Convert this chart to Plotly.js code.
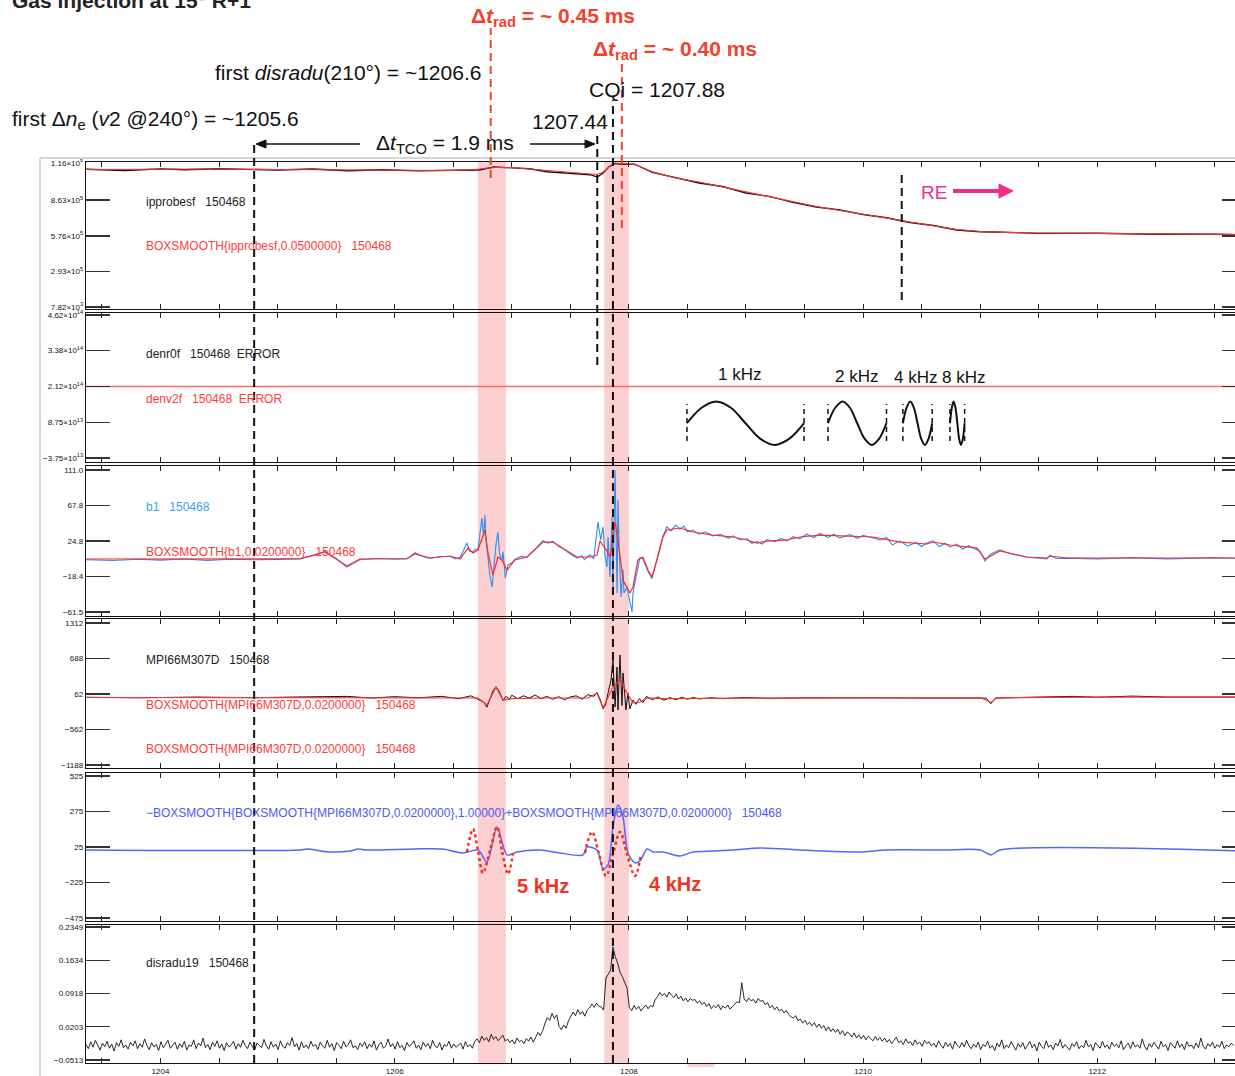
<!DOCTYPE html>
<html><head><meta charset="utf-8">
<script src="https://cdn.plot.ly/plotly-3.0.1.min.js"></script>
<style>html,body{margin:0;padding:0;overflow:hidden;background:#fff;}#chart{width:1246px;height:1076px;}</style>
</head><body><div id="chart"></div>
<script>
// ---------------- data ----------------
const timeRange = [1203.364, 1213.27];
const xLabelVals = [1204, 1206, 1208, 1210, 1212];
const xLabelText = ['1204', '1206', '1208', '1210', '1212'];
const xMinorVals = [1203.5,1204.5,1205,1205.5,1206.5,1207,1207.5,1208.5,1209,1209.5,1210.5,1211,1211.5,1212.5,1213];

const ipTickVals = [1.16e6, 8.63e5, 5.76e5, 2.93e5, 7.82e3];
const ipTickText = ['1.16×10<sup>6</sup>','8.63×10<sup>5</sup>','5.76×10<sup>5</sup>','2.93×10<sup>5</sup>','7.82×10<sup>3</sup>'];
const neTickVals = [4.62e14, 3.38e14, 2.12e14, 8.75e13, -3.75e13];
const neTickText = ['4.62×10<sup>14</sup>','3.38×10<sup>14</sup>','2.12×10<sup>14</sup>','8.75×10<sup>13</sup>','−3.75×10<sup>13</sup>'];
const b1TickVals = [111.0, 67.8, 24.8, -18.4, -61.5];
const b1TickText = ['111.0','67.8','24.8','−18.4','−61.5'];
const mpiTickVals = [1312, 688, 62, -562, -1188];
const mpiTickText = ['1312','688','62','−562','−1188'];
const diffTickVals = [525, 275, 25, -225, -475];
const diffTickText = ['525','275','25','−225','−475'];
const radTickVals = [0.2349, 0.1634, 0.0918, 0.0203, -0.0513];
const radTickText = ['0.2349','0.1634','0.0918','0.0203','−0.0513'];

// panel 1 : ipprobesf
const ipRawT = [1203.364,1203.7,1204.0,1204.2,1204.5,1204.8,1205.0,1205.3,1205.6,1205.9,1206.2,1206.5,1206.72,1206.85,1207.0,1207.15,1207.3,1207.5,1207.67,1207.73,1207.78,1207.83,1207.88,1207.95,1208.05,1208.2,1208.4,1208.6,1208.8,1209.0,1209.2,1209.4,1209.6,1209.8,1210.0,1210.2,1210.4,1210.6,1210.8,1211.0,1211.2,1211.5,1212.0,1212.5,1213.0,1213.27];
const ipRawV = [1.110e6,1.100e6,1.113e6,1.106e6,1.114e6,1.109e6,1.104e6,1.112e6,1.098e6,1.106e6,1.097e6,1.102e6,1.104e6,1.128e6,1.118e6,1.114e6,1.090e6,1.080e6,1.066e6,1.048e6,1.080e6,1.130e6,1.156e6,1.150e6,1.150e6,1.085e6,1.045e6,1.000e6,0.972e6,0.920e6,0.892e6,0.845e6,0.808e6,0.785e6,0.748e6,0.722e6,0.684e6,0.660e6,0.624e6,0.610e6,0.606e6,0.597e6,0.598e6,0.590e6,0.590e6,0.586e6];
const ipSmT = [1203.364,1204.0,1204.5,1205.0,1205.5,1206.0,1206.5,1206.72,1206.85,1207.0,1207.15,1207.3,1207.5,1207.67,1207.73,1207.78,1207.83,1207.88,1207.95,1208.05,1208.2,1208.4,1208.6,1208.8,1209.0,1209.2,1209.4,1209.6,1209.8,1210.0,1210.2,1210.4,1210.6,1210.8,1211.0,1211.2,1211.5,1212.0,1212.5,1213.0,1213.27];
const ipSmV = [1.108e6,1.112e6,1.112e6,1.108e6,1.104e6,1.104e6,1.100e6,1.112e6,1.124e6,1.124e6,1.112e6,1.096e6,1.084e6,1.072e6,1.068e6,1.088e6,1.128e6,1.152e6,1.156e6,1.148e6,1.090e6,1.040e6,1.008e6,0.968e6,0.928e6,0.888e6,0.848e6,0.812e6,0.780e6,0.752e6,0.720e6,0.688e6,0.656e6,0.628e6,0.612e6,0.604e6,0.600e6,0.596e6,0.592e6,0.588e6,0.588e6];

// panel 2 : denv2f (constant) + frequency reference sketches
const neT = [1203.364, 1213.27];
const neV = [2.12e14, 2.12e14];
const sine1kT = [1208.496,1208.621,1208.746,1208.871,1208.996,1209.121,1209.246,1209.371,1209.496];
const sine2kT = [1209.700,1209.7625,1209.825,1209.8875,1209.950,1210.0125,1210.075,1210.1375,1210.200];
const sine4kT = [1210.340,1210.371,1210.403,1210.434,1210.465,1210.496,1210.528,1210.559,1210.590];
const sine8kT = [1210.742,1210.758,1210.773,1210.789,1210.805,1210.820,1210.836,1210.852,1210.867];
const sineLevels = [8.4e13,1.38e14,1.6e14,1.38e14,8.4e13,3.0e13,0.8e13,3.0e13,8.4e13];
const sineEdgeTimes = [1208.496,1209.496,1209.700,1210.200,1210.340,1210.590,1210.742,1210.867];
const sineEdgeLevels = [2.2e13, 1.51e14];

// panel 3 : b1
const b1SmT = [1203.364,1204.5,1205.0,1205.19,1205.3,1205.404,1205.5,1205.592,1205.703,1206.0,1206.105,1206.174,1206.302,1206.472,1206.558,1206.626,1206.669,1206.711,1206.771,1206.797,1206.839,1206.882,1206.916,1206.959,1207.027,1207.130,1207.266,1207.352,1207.437,1207.557,1207.668,1207.728,1207.753,1207.813,1207.839,1207.882,1207.907,1207.950,1208.009,1208.035,1208.078,1208.120,1208.163,1208.197,1208.240,1208.291,1208.325,1208.436,1208.547,1208.718,1208.889,1209.008,1209.094,1209.179,1209.350,1209.461,1209.632,1209.888,1210.085,1210.315,1210.546,1210.597,1210.742,1210.973,1211.041,1211.169,1211.400,1211.570,1211.596,1211.741,1212.5,1213.27];
const b1SmV = [2.9,2.9,3.0,3.2,7.0,11.4,3.0,-5.6,2.9,3.0,3.5,9.0,4.1,6.5,2.9,16.2,10.2,13.8,38.1,10.2,-16.6,5.3,1.7,-10.5,1.7,5.3,23.5,23.5,16.2,5.3,5.3,7.7,25.0,12.6,5.3,47.8,26.0,-22.6,-38.4,-31.1,1.7,5.3,-10.5,-19.0,1.7,29.6,38.1,40.5,35.7,32.0,29.6,26.0,22.3,24.7,26.0,29.6,32.0,30.8,29.6,23.5,21.1,23.5,19.9,16.2,2.9,12.6,5.3,4.1,6.5,4.1,4.1,4.1];
const b1Raw = [[1203.364,2.0],[1203.6,1.0],[1203.8,2.5],[1204.0,1.5],[1204.2,2.8],[1204.4,1.2],[1204.6,2.6],[1204.8,2.0],[1205.0,2.4],[1205.19,3.0],[1205.3,7.5],[1205.404,12.0],[1205.5,3.5],[1205.592,-7.0],[1205.65,-2.0],[1205.703,2.0],[1205.85,3.5],[1206.0,2.5],[1206.105,3.0],[1206.174,10.5],[1206.24,6.0],[1206.302,3.5],[1206.38,6.0],[1206.472,6.0],[1206.52,3.0],[1206.558,5.0],[1206.59,14.0],[1206.617,22.3],[1206.64,12.0],[1206.669,11.5],[1206.69,15.0],[1206.711,14.0],[1206.745,52.7],[1206.76,30.0],[1206.771,56.3],[1206.78,26.0],[1206.797,5.0],[1206.81,-14.1],[1206.831,-31.1],[1206.845,-10.0],[1206.865,20.0],[1206.882,35.7],[1206.895,10.0],[1206.916,1.0],[1206.925,12.0],[1206.945,-20.2],[1206.968,-4.0],[1207.0,-2.0],[1207.027,2.5],[1207.08,6.0],[1207.13,5.0],[1207.2,15.0],[1207.266,25.0],[1207.31,22.0],[1207.352,24.5],[1207.4,18.0],[1207.437,15.5],[1207.5,9.0],[1207.557,4.0],[1207.6,7.0],[1207.62,2.0],[1207.668,8.0],[1207.7,3.0],[1207.736,47.8],[1207.76,26.0],[1207.779,41.8],[1207.796,7.7],[1207.813,-6.8],[1207.822,29.6],[1207.839,-19.0],[1207.856,53.9],[1207.864,-38.4],[1207.882,111.0],[1207.89,40.5],[1207.899,-38.4],[1207.907,74.6],[1207.916,20.0],[1207.933,-43.3],[1207.95,-10.0],[1207.958,-38.4],[1207.984,-31.1],[1208.0,-43.3],[1208.027,-61.5],[1208.035,-38.4],[1208.07,-10.0],[1208.095,5.0],[1208.12,3.0],[1208.163,-12.0],[1208.197,-21.0],[1208.24,2.0],[1208.291,31.0],[1208.325,42.0],[1208.36,37.0],[1208.4,44.0],[1208.436,39.0],[1208.47,43.0],[1208.5,36.0],[1208.547,38.0],[1208.6,33.0],[1208.65,36.0],[1208.718,31.0],[1208.78,33.0],[1208.85,28.0],[1208.889,31.0],[1208.95,26.0],[1209.008,27.5],[1209.05,22.0],[1209.094,24.0],[1209.14,21.0],[1209.179,26.5],[1209.25,24.0],[1209.3,28.0],[1209.35,24.5],[1209.4,30.0],[1209.461,27.5],[1209.52,33.0],[1209.58,29.0],[1209.632,34.0],[1209.7,29.0],[1209.75,33.0],[1209.8,28.5],[1209.888,32.5],[1209.95,28.0],[1210.0,31.5],[1210.085,28.0],[1210.15,26.0],[1210.2,29.0],[1210.25,20.0],[1210.315,25.0],[1210.38,18.5],[1210.45,23.0],[1210.5,18.0],[1210.546,22.5],[1210.597,25.0],[1210.65,18.0],[1210.7,22.0],[1210.742,17.5],[1210.8,21.0],[1210.85,15.0],[1210.9,19.0],[1210.973,14.0],[1211.0,12.0],[1211.041,0.5],[1211.09,9.0],[1211.169,14.0],[1211.25,9.5],[1211.4,5.0],[1211.5,4.0],[1211.57,3.0],[1211.596,7.5],[1211.65,3.5],[1211.741,4.0],[1212.0,3.0],[1212.3,4.5],[1212.6,3.0],[1213.0,4.5],[1213.27,3.5]];

// panel 4 : MPI66M307D
const mpiRaw = [[1203.364,5],[1203.8,-5],[1204.3,8],[1204.8,-3],[1205.2,10],[1205.6,20],[1205.8,-10],[1206.0,15],[1206.2,-5],[1206.4,20],[1206.55,-20],[1206.65,30],[1206.72,-40],[1206.76,-80],[1206.788,-170],[1206.81,-60],[1206.84,120],[1206.865,190],[1206.89,120],[1206.925,-50],[1206.95,20],[1206.98,-30],[1207.0,40],[1207.05,-20],[1207.1,30],[1207.15,-10],[1207.2,45],[1207.25,-20],[1207.3,20],[1207.35,-30],[1207.4,15],[1207.45,-40],[1207.5,10],[1207.55,30],[1207.6,-30],[1207.65,50],[1207.7,20],[1207.728,90],[1207.76,-60],[1207.779,-200],[1207.8,-130],[1207.83,150],[1207.847,300],[1207.864,661],[1207.882,-166],[1207.899,537],[1207.907,-219],[1207.924,749],[1207.941,-140],[1207.95,432],[1207.975,-219],[1207.992,80],[1208.009,-200],[1208.035,-44],[1208.06,-120],[1208.09,-20],[1208.12,-90],[1208.15,20],[1208.2,-40],[1208.25,10],[1208.3,-50],[1208.35,0],[1208.4,-40],[1208.45,5],[1208.5,-30],[1208.55,0],[1208.6,-25],[1208.7,-5],[1208.8,-20],[1209.0,0],[1209.2,-15],[1209.5,-5],[1210.0,-8],[1210.5,-3],[1211.05,-10],[1211.09,-110],[1211.13,-10],[1211.5,8],[1211.8,20],[1212.0,5],[1212.3,25],[1212.6,8],[1213.27,8]];
const mpiSmooth = [[1203.364,0],[1205.0,0],[1206.0,-8],[1206.711,-8],[1206.788,-132],[1206.865,185],[1206.925,-44],[1207.0,-20],[1207.3,-8],[1207.5,-10],[1207.65,-8],[1207.728,80],[1207.779,-184],[1207.864,185],[1207.924,309],[1207.984,80],[1208.035,-96],[1208.095,-79],[1208.155,-8],[1208.3,-20],[1208.5,-15],[1209.0,-10],[1210.0,-8],[1211.0,-5],[1211.07,-60],[1211.09,-90],[1211.14,-5],[1211.5,5],[1212.0,8],[1213.27,8]];

// panel 5 : high-pass MPI and mode fits
const diffSeries = [[1203.364,4],[1205.19,4],[1205.25,11],[1205.45,-10],[1205.62,-3],[1205.69,11],[1205.76,4],[1206.16,11],[1206.41,11],[1206.583,-17],[1206.711,4],[1206.788,-80],[1206.874,166],[1206.959,-31],[1207.044,-10],[1207.241,4],[1207.412,-17],[1207.608,-31],[1207.642,25],[1207.728,4],[1207.779,-129],[1207.822,-101],[1207.864,166],[1207.907,321],[1207.950,236],[1207.992,-17],[1208.052,-87],[1208.095,-73],[1208.155,11],[1208.206,-10],[1208.291,-10],[1208.436,-38],[1208.547,-10],[1208.718,-3],[1208.889,4],[1209.12,18],[1209.461,4],[1209.632,-3],[1209.974,-10],[1210.204,4],[1210.68,4],[1211.0,4],[1211.092,-31],[1211.169,4],[1213.27,-3]];
const fit5kHz = [[1206.617,-10],[1206.669,152],[1206.711,0],[1206.754,-158],[1206.814,0],[1206.874,166],[1206.916,0],[1206.968,-165],[1207.010,-17]];
const fit4kHz = [[1207.625,-17],[1207.685,131],[1207.745,-24],[1207.805,-179],[1207.864,-24],[1207.924,131],[1207.984,-24],[1208.052,-179],[1208.103,-31]];

// panel 6 : disradu19 (uniform sampling, 0.02 ms)
const disStart = 1203.364, disStep = 0.02;
const disV = [
-0.018,-0.027,-0.012,-0.024,-0.009,-0.021,-0.030,-0.015,-0.023,-0.011,-0.026,-0.017,-0.032,-0.014,-0.022,-0.008,-0.025,-0.019,-0.028,-0.013,
-0.021,-0.010,-0.027,-0.016,-0.024,-0.006,-0.020,-0.029,-0.014,-0.023,-0.018,-0.031,-0.012,-0.025,-0.017,-0.009,-0.026,-0.020,-0.013,-0.028,
-0.016,-0.024,-0.011,-0.030,-0.019,-0.022,-0.008,-0.027,-0.015,-0.021,-0.004,-0.025,-0.018,-0.029,-0.013,-0.022,-0.010,-0.026,-0.017,-0.031,
-0.014,-0.023,-0.019,-0.011,-0.028,-0.016,-0.024,-0.009,-0.020,-0.027,-0.013,-0.022,-0.030,-0.015,-0.019,-0.025,-0.007,-0.021,-0.028,-0.012,
-0.024,-0.017,-0.029,-0.010,-0.022,-0.026,-0.014,-0.020,-0.003,-0.023,-0.016,-0.030,-0.012,-0.025,-0.019,-0.027,-0.011,-0.022,-0.018,-0.029,
-0.013,-0.021,-0.026,-0.009,-0.024,-0.016,-0.031,-0.014,-0.020,-0.027,-0.011,-0.023,-0.018,-0.008,-0.025,-0.021,-0.029,-0.015,-0.022,-0.012,
-0.027,-0.017,-0.024,-0.010,-0.030,-0.019,-0.013,-0.026,-0.021,-0.006,-0.023,-0.016,-0.028,-0.012,-0.025,-0.020,-0.031,-0.014,-0.022,-0.018,
-0.010,-0.026,-0.019,-0.029,-0.013,-0.023,-0.016,-0.027,-0.009,-0.021,-0.025,-0.014,-0.030,-0.018,-0.022,-0.011,-0.026,-0.017,-0.024,-0.020,
-0.015,-0.028,-0.012,-0.023,-0.018,-0.026,-0.011,-0.006,-0.014,0.000,-0.009,-0.003,-0.012,0.004,-0.007,-0.001,-0.010,-0.004,0.002,-0.011,
-0.006,-0.014,-0.008,-0.017,-0.004,-0.012,-0.009,-0.016,-0.005,-0.011,-0.002,-0.013,-0.003,0.008,0.001,0.012,0.028,0.040,0.034,0.049,
0.038,0.046,0.021,0.014,0.024,0.017,0.033,0.041,0.052,0.044,0.057,0.047,0.053,0.043,0.056,0.061,0.069,0.062,0.071,0.064,
0.063,0.056,0.125,0.133,0.142,0.192,0.171,0.157,0.138,0.128,0.114,0.104,0.062,0.055,0.066,0.058,0.064,0.054,0.061,0.067,
0.059,0.066,0.063,0.078,0.085,0.094,0.087,0.092,0.084,0.095,0.088,0.083,0.091,0.080,0.086,0.076,0.082,0.074,0.081,0.077,
0.079,0.071,0.076,0.068,0.073,0.064,0.070,0.059,0.066,0.061,0.068,0.057,0.065,0.060,0.067,0.058,0.064,0.069,0.074,0.072,
0.115,0.080,0.074,0.082,0.076,0.079,0.071,0.081,0.075,0.077,0.068,0.072,0.061,0.066,0.057,0.063,0.054,0.058,0.050,0.055,
0.047,0.042,0.039,0.044,0.033,0.037,0.028,0.034,0.025,0.030,0.022,0.029,0.019,0.026,0.017,0.023,0.012,0.020,0.010,0.016,
0.008,0.015,0.004,0.012,0.001,0.009,0.005,-0.002,0.007,-0.004,0.003,-0.006,0.002,-0.008,0.000,-0.005,-0.010,-0.001,-0.009,-0.003,
-0.011,-0.004,-0.013,-0.007,-0.016,-0.009,-0.002,-0.014,-0.010,-0.018,-0.006,-0.015,-0.012,-0.020,-0.008,-0.017,-0.013,-0.022,-0.009,-0.016,
-0.012,-0.021,-0.015,-0.024,-0.010,-0.019,-0.026,-0.013,-0.022,-0.016,-0.028,-0.011,-0.020,-0.025,-0.014,-0.023,-0.009,-0.021,-0.027,-0.017,
-0.024,-0.013,-0.029,-0.018,-0.022,-0.011,-0.026,-0.020,-0.031,-0.015,-0.023,-0.008,-0.027,-0.019,-0.025,-0.012,-0.021,-0.030,-0.016,-0.024,
-0.014,-0.028,-0.020,-0.011,-0.025,-0.017,-0.032,-0.013,-0.022,-0.027,-0.010,-0.024,-0.019,-0.029,-0.015,-0.021,-0.007,-0.026,-0.018,-0.023,
-0.030,-0.016,-0.022,-0.012,-0.027,-0.020,-0.025,-0.009,-0.023,-0.018,-0.031,-0.014,-0.021,-0.026,-0.011,-0.024,-0.019,-0.028,-0.013,-0.022,
-0.017,-0.025,-0.010,-0.029,-0.021,-0.015,-0.027,-0.012,-0.023,-0.019,-0.026,-0.006,-0.022,-0.030,-0.016,-0.024,-0.013,-0.020,-0.028,-0.011,
-0.023,-0.018,-0.031,-0.014,-0.021,-0.026,-0.010,-0.024,-0.017,-0.029,-0.012,-0.022,-0.019,-0.027,-0.015,-0.025,-0.004,-0.021,-0.028,-0.016,
-0.022,-0.013,-0.026,-0.018,-0.024,-0.011,-0.027,-0.019,-0.023,-0.015,-0.020];

// event times (ms)
const firstNeTime = 1204.80, tcoEndTime = 1207.73, cqTime = 1207.864;
const radTimes = [1206.82, 1207.94];
const reTime = 1210.33;
const bandTimes = [[1206.71, 1206.95], [1207.79, 1208.00]];

// ---------------- layout helpers ----------------
const W = 1246, H = 1076;
const PX = v => v / W, PY = v => 1 - v / H;
const FONT = 'Liberation Sans, Arial, sans-serif';
const BIG = 'Liberation Sans, Arial, sans-serif';
const NB = '\u00a0\u00a0\u00a0';
const RED = '#ff3030', BLACK = '#111111', MAGENTA = '#ee2f88';

const panels = [
  {top:162, bot:309, range:[-8182, 1.168e6], vals:ipTickVals, text:ipTickText},
  {top:313, bot:462, range:[-5.147e13, 4.690e14], vals:neTickVals, text:neTickText},
  {top:466, bot:616, range:[-66.36, 115.86], vals:b1TickVals, text:b1TickText},
  {top:619, bot:768, range:[-1240.8, 1382.4], vals:mpiTickVals, text:mpiTickText},
  {top:773, bot:921, range:[-496.1, 546.1], vals:diffTickVals, text:diffTickText},
  {top:925, bot:1063, range:[-0.0578, 0.2392], vals:radTickVals, text:radTickText}
];

const layout = {
  width: W, height: H, margin:{l:0,r:0,t:0,b:0},
  paper_bgcolor:'#ffffff', plot_bgcolor:'rgba(0,0,0,0)',
  showlegend:false, shapes:[], annotations:[]
};
panels.forEach((p, i) => {
  const n = i + 1, s = n === 1 ? '' : String(n);
  layout['xaxis' + s] = {
    domain:[PX(86), 1], range:timeRange, anchor:'y' + s,
    tickmode:'array', tickvals:xLabelVals, ticktext:xLabelText,
    ticks:'inside', ticklen:5, tickwidth:1, tickcolor:'#222',
    minor:{tickmode:'array', tickvals:xMinorVals, ticks:'inside', ticklen:5, tickwidth:1, tickcolor:'#222'},
    showline:true, linecolor:'#111', linewidth:1.3, mirror:'ticks',
    showgrid:false, zeroline:false, showticklabels:n === 6,
    tickfont:{family:FONT, size:8, color:'#111'}
  };
  layout['yaxis' + s] = {
    domain:[PY(p.bot), PY(p.top)], range:p.range, anchor:'x' + s,
    tickmode:'array', tickvals:p.vals, ticktext:p.text,
    ticks:'inside', ticklen:24, tickwidth:1.3, tickcolor:'#333',
    showline:true, linecolor:'#111', linewidth:1.3, mirror:'ticks',
    showgrid:false, zeroline:false,
    tickfont:{family:FONT, size:8, color:'#111'}
  };
});

// ---------------- traces ----------------
const tr = (x, y, n, line) => ({
  type:'scatter', mode:'lines', x, y,
  xaxis:'x' + (n === 1 ? '' : n), yaxis:'y' + (n === 1 ? '' : n),
  line, hoverinfo:'skip'
});
const col = (arr, k) => arr.map(p => p[k]);
const sineLine = {color:BLACK, width:2, shape:'spline'};

const data = [
  tr(ipRawT, ipRawV, 1, {color:BLACK, width:1.3}),
  tr(ipSmT, ipSmV, 1, {color:RED, width:1.2}),
  tr(neT, neV, 2, {color:'#ff6a6a', width:1.6}),
  tr(sine1kT, sineLevels, 2, sineLine),
  tr(sine2kT, sineLevels, 2, sineLine),
  tr(sine4kT, sineLevels, 2, sineLine),
  tr(sine8kT, sineLevels, 2, sineLine),
  tr(col(b1Raw,0), col(b1Raw,1), 3, {color:'#2a8ef5', width:1.1}),
  tr(b1SmT, b1SmV, 3, {color:'#ff2a2a', width:1.2}),
  tr(col(mpiRaw,0), col(mpiRaw,1), 4, {color:BLACK, width:1}),
  tr(col(mpiSmooth,0), col(mpiSmooth,1), 4, {color:RED, width:1.2}),
  tr(col(diffSeries,0), col(diffSeries,1), 5, {color:'#5566ff', width:1.5, shape:'spline', smoothing:0.8}),
  tr(col(fit5kHz,0), col(fit5kHz,1), 5, {color:'#ff2a1a', width:2.5, dash:'3px,3px', shape:'spline'}),
  tr(col(fit4kHz,0), col(fit4kHz,1), 5, {color:'#ff2a1a', width:2.5, dash:'3px,3px', shape:'spline'}),
  tr(disV.map((v, i) => disStart + i * disStep), disV, 6, {color:BLACK, width:0.9})
];

// ---------------- shapes ----------------
const S = layout.shapes;
S.push({type:'line', xref:'paper', yref:'paper', x0:PX(40), x1:PX(40), y0:0, y1:PY(158), line:{color:'#d6d6d6', width:2}});
S.push({type:'line', xref:'paper', yref:'paper', x0:PX(40), x1:1, y0:PY(158), y1:PY(158), line:{color:'#d6d6d6', width:2}});
bandTimes.forEach(b => S.push({type:'rect', xref:'x', yref:'paper', x0:b[0], x1:b[1], y0:PY(1063), y1:PY(161), fillcolor:'rgba(248,150,150,0.45)', line:{width:0}, layer:'below'}));
S.push({type:'rect', xref:'x', yref:'paper', x0:1208.50, x1:1208.73, y0:PY(1067), y1:PY(1063), fillcolor:'rgba(248,150,150,0.45)', line:{width:0}, layer:'below'});
const vline = (t, y0, y1, color, width, dash) => S.push({type:'line', xref:'x', yref:'paper', x0:t, x1:t, y0:PY(y1), y1:PY(y0), line:{color, width, dash}});
vline(firstNeTime, 140, 1063, BLACK, 2, '8px,5px');
vline(tcoEndTime, 133, 365, BLACK, 2, '8px,5px');
vline(cqTime, 100, 1063, BLACK, 2, '8px,5px');
vline(radTimes[0], 28, 178, '#f2422d', 2, '8px,5px');
vline(radTimes[1], 62, 228, '#f2422d', 2, '8px,5px');
vline(reTime, 175, 300, BLACK, 2, '8px,5px');
sineEdgeTimes.forEach(t => S.push({type:'line', xref:'x2', yref:'y2', x0:t, x1:t, y0:sineEdgeLevels[0], y1:sineEdgeLevels[1], line:{color:BLACK, width:1.5, dash:'5px,4px'}}));
// arrows drawn as shaft + head
const arrow = (xTail, xTip, y, color, width, headLen, headHalf) => {
  const dir = xTip > xTail ? 1 : -1;
  const xBase = xTip - dir * headLen;
  S.push({type:'line', xref:'paper', yref:'paper', x0:PX(xTail), x1:PX(xBase), y0:PY(y), y1:PY(y), line:{color, width}});
  S.push({type:'path', xref:'paper', yref:'paper', fillcolor:color, line:{color, width:1},
    path:`M ${PX(xTip)} ${PY(y)} L ${PX(xBase)} ${PY(y - headHalf)} L ${PX(xBase)} ${PY(y + headHalf)} Z`});
};
arrow(360, 256, 144, BLACK, 1.5, 10, 4);
arrow(530, 595, 144, BLACK, 1.5, 10, 4);
arrow(953, 1013, 191, MAGENTA, 4, 14, 7);

// ---------------- annotations ----------------
const A = layout.annotations;
const ann = (text, x, y, o) => A.push(Object.assign({text, xref:'paper', yref:'paper', x:PX(x), y:PY(y), showarrow:false, xanchor:'center', yanchor:'middle', font:{family:BIG, size:21, color:BLACK}}, o || {}));
ann('<b>Gas injection at 15° R+1</b>', 10, 0, {xanchor:'left', font:{family:BIG, size:21, color:'#222'}});
ann('<b>Δ<i>t</i><sub>rad</sub> = ~ 0.45 ms</b>', 553, 17, {font:{family:BIG, size:21, color:'#f2422d'}});
ann('<b>Δ<i>t</i><sub>rad</sub> = ~ 0.40 ms</b>', 675, 50, {font:{family:BIG, size:21, color:'#f2422d'}});
ann('first <i>disradu</i>(210°) = ~1206.6', 348, 73);
ann('CQi = 1207.88', 657, 90);
ann('first Δ<i>n</i><sub>e</sub> (<i>v</i>2 @240°) = ~1205.6', 155, 120);
ann('1207.44', 570, 122);
ann('Δ<i>t</i><sub>TCO</sub> = 1.9 ms', 445, 144);
ann('RE', 934, 192, {font:{family:BIG, size:19, color:MAGENTA}});
ann('1 kHz', 739, 374, {font:{family:BIG, size:17, color:BLACK}});
ann('2 kHz', 856, 376, {font:{family:BIG, size:17, color:BLACK}});
ann('4 kHz', 915, 377, {font:{family:BIG, size:17, color:BLACK}});
ann('8 kHz', 963, 377, {font:{family:BIG, size:17, color:BLACK}});
ann('<b>5 kHz</b>', 543, 886, {font:{family:BIG, size:20, color:'#f2331f'}});
ann('<b>4 kHz</b>', 675, 884, {font:{family:BIG, size:20, color:'#f2331f'}});
// in-panel labels
const lab = (text, y, color) => A.push({text, xref:'paper', yref:'paper', x:PX(144), y:PY(y), xanchor:'left', yanchor:'middle', showarrow:false, font:{family:FONT, size:12, color}});
lab('ipprobesf' + NB + '150468', 202, '#222');
lab('BOXSMOOTH{ipprobesf,0.0500000}' + NB + '150468', 246, '#ff3b3b');
lab('denr0f' + NB + '150468\u00a0\u00a0ERROR', 354, '#222');
lab('denv2f' + NB + '150468\u00a0\u00a0ERROR', 399, '#ff3b3b');
lab('b1' + NB + '150468', 507, '#3a9ff5');
lab('BOXSMOOTH{b1,0.0200000}' + NB + '150468', 552, '#ff3b3b');
lab('MPI66M307D' + NB + '150468', 660, '#222');
lab('BOXSMOOTH{MPI66M307D,0.0200000}' + NB + '150468', 705, '#ff3b3b');
lab('BOXSMOOTH{MPI66M307D,0.0200000}' + NB + '150468', 749, '#ff3b3b');
lab('−BOXSMOOTH{BOXSMOOTH{MPI66M307D,0.0200000},1.00000}+BOXSMOOTH{MPI66M307D,0.0200000}' + NB + '150468', 813, '#4a5af5');
lab('disradu19' + NB + '150468', 963, '#222');

Plotly.newPlot('chart', data, layout, {staticPlot:true, displayModeBar:false});
</script></body></html>
